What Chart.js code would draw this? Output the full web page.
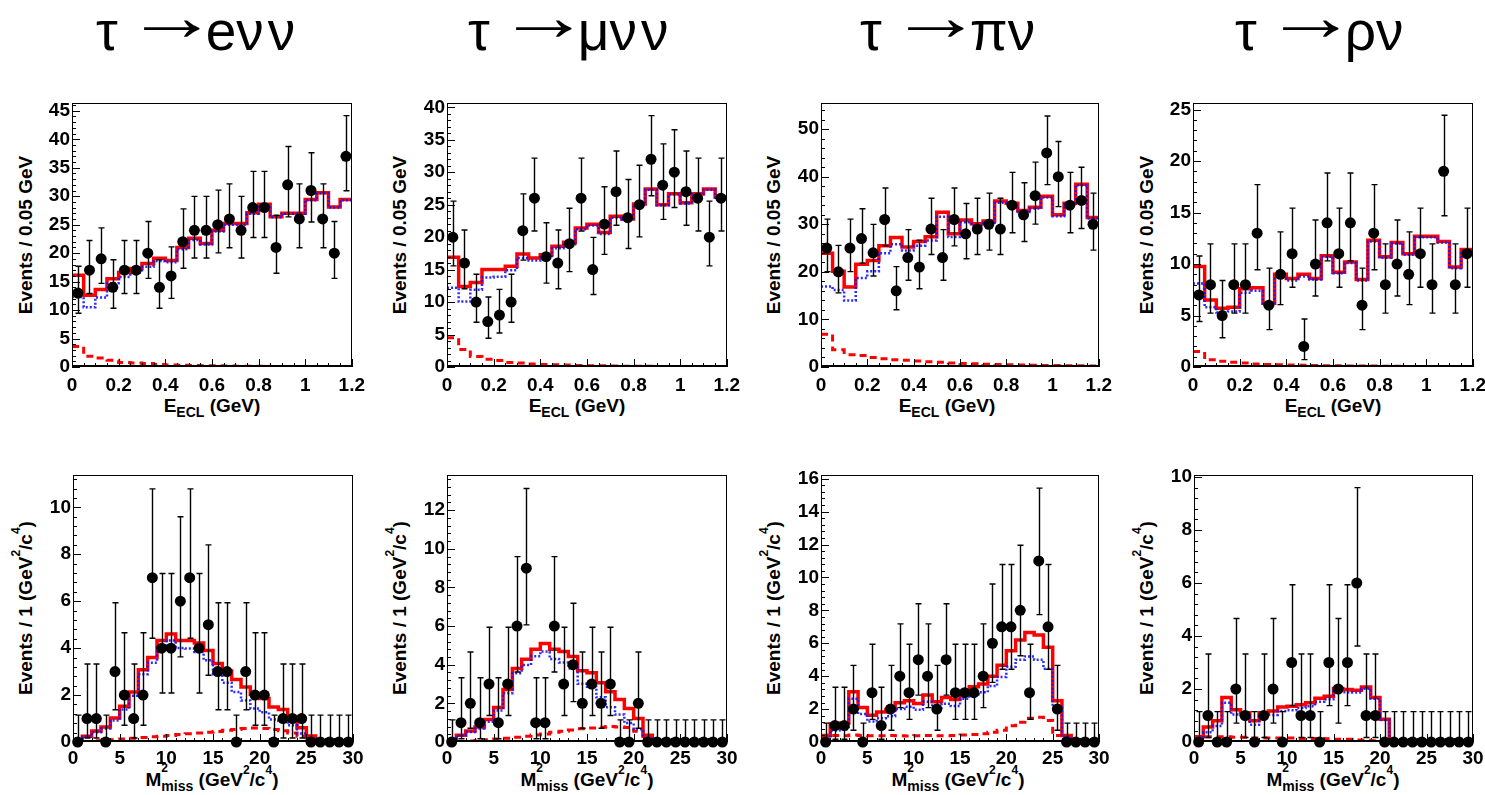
<!DOCTYPE html>
<html><head><meta charset="utf-8">
<script src="https://cdn.jsdelivr.net/npm/chart.js@4.4.1/dist/chart.umd.min.js"></script>
<style>
html,body{margin:0;padding:0;background:#fff;}
body{width:1485px;height:795px;position:relative;overflow:hidden;font-family:"Liberation Sans",Arial,sans-serif;color:#000;}
canvas{position:absolute;}
.ttl{position:absolute;font-size:55px;line-height:54px;white-space:nowrap;}
.ttl .arr{display:inline-block;width:66px;margin:0 15px 0 7px;position:relative;top:-15px;font-weight:bold;}
.ttl .arr span{display:inline-block;transform:scale(1.7,1.25);transform-origin:left center;}
.ttl .nu{letter-spacing:4px;}
.xt{position:absolute;width:240px;text-align:center;font-weight:bold;font-size:19px;line-height:20px;white-space:nowrap;}
.yt{position:absolute;width:260px;height:20px;text-align:center;font-weight:bold;font-size:19px;line-height:20px;white-space:nowrap;transform:translate(-50%,-50%) rotate(-90deg);}
.sub{font-size:14px;position:relative;top:5px;}
.sup{font-size:12px;position:relative;top:-12px;}
.ms{display:inline-block;position:relative;}
.ms2{position:absolute;left:0;top:-12px;font-size:12px;line-height:20px;}
</style></head>
<body>
<div class="ttl" style="left:96px;top:4px">τ<span class="arr"><span>→</span></span>e<span class="nu">νν</span></div>
<div class="ttl" style="left:468px;top:4px">τ<span class="arr"><span>→</span></span>μ<span class="nu">νν</span></div>
<div class="ttl" style="left:860px;top:4px">τ<span class="arr"><span>→</span></span>π<span class="nu">ν</span></div>
<div class="ttl" style="left:1235px;top:4px">τ<span class="arr"><span>→</span></span>ρ<span class="nu">ν</span></div>

<div class="xt" style="left:92px;top:396px">E<span class="sub">ECL</span> (GeV)</div>
<div class="xt" style="left:457px;top:396px">E<span class="sub">ECL</span> (GeV)</div>
<div class="xt" style="left:827px;top:396px">E<span class="sub">ECL</span> (GeV)</div>
<div class="xt" style="left:1213px;top:396px">E<span class="sub">ECL</span> (GeV)</div>

<div class="xt" style="left:92px;top:770px">M<span class="ms"><span class="ms2">2</span><span class="sub">miss</span></span> (GeV<span class="sup">2</span>/c<span class="sup">4</span>)</div>
<div class="xt" style="left:467px;top:770px">M<span class="ms"><span class="ms2">2</span><span class="sub">miss</span></span> (GeV<span class="sup">2</span>/c<span class="sup">4</span>)</div>
<div class="xt" style="left:838px;top:770px">M<span class="ms"><span class="ms2">2</span><span class="sub">miss</span></span> (GeV<span class="sup">2</span>/c<span class="sup">4</span>)</div>
<div class="xt" style="left:1213px;top:770px">M<span class="ms"><span class="ms2">2</span><span class="sub">miss</span></span> (GeV<span class="sup">2</span>/c<span class="sup">4</span>)</div>

<div class="yt" style="left:26px;top:235px">Events / 0.05 GeV</div>
<div class="yt" style="left:400px;top:235px">Events / 0.05 GeV</div>
<div class="yt" style="left:774px;top:235px">Events / 0.05 GeV</div>
<div class="yt" style="left:1147px;top:235px">Events / 0.05 GeV</div>
<div class="yt" style="left:26px;top:608px">Events / 1 (GeV<span class="sup">2</span>/c<span class="sup">4</span>)</div>
<div class="yt" style="left:400px;top:608px">Events / 1 (GeV<span class="sup">2</span>/c<span class="sup">4</span>)</div>
<div class="yt" style="left:774px;top:608px">Events / 1 (GeV<span class="sup">2</span>/c<span class="sup">4</span>)</div>
<div class="yt" style="left:1147px;top:608px">Events / 1 (GeV<span class="sup">2</span>/c<span class="sup">4</span>)</div>

<script>
// ---------- bins ----------
const topEdges = [0,0.05,0.1,0.15,0.2,0.25,0.3,0.35,0.4,0.45,0.5,0.55,0.6,0.65,0.7,0.75,0.8,0.85,0.9,0.95,1,1.05,1.1,1.15,1.2];
const topCenters = [0.025,0.075,0.125,0.175,0.225,0.275,0.325,0.375,0.425,0.475,0.525,0.575,0.625,0.675,0.725,0.775,0.825,0.875,0.925,0.975,1.025,1.075,1.125,1.175];
const botEdges = [0,1,2,3,4,5,6,7,8,9,10,11,12,13,14,15,16,17,18,19,20,21,22,23,24,25,26,27,28,29,30];
const botCenters = [0.5,1.5,2.5,3.5,4.5,5.5,6.5,7.5,8.5,9.5,10.5,11.5,12.5,13.5,14.5,15.5,16.5,17.5,18.5,19.5,20.5,21.5,22.5,23.5,24.5,25.5,26.5,27.5,28.5,29.5];

// ---------- tick labels ----------
const xTicksTop = [0,0.2,0.4,0.6,0.8,1,1.2];
const xTickLabelsTop = ['0','0.2','0.4','0.6','0.8','1','1.2'];
const xTicksBot = [0,5,10,15,20,25,30];
const xTickLabelsBot = ['0','5','10','15','20','25','30'];
const yTicksETop = [0,5,10,15,20,25,30,35,40,45];
const yTicksMuTop = [0,5,10,15,20,25,30,35,40];
const yTicksPiTop = [0,10,20,30,40,50];
const yTicksRhoTop = [0,5,10,15,20,25];
const yTicksEBot = [0,2,4,6,8,10];
const yTicksMuBot = [0,2,4,6,8,10,12];
const yTicksPiBot = [0,2,4,6,8,10,12,14,16];
const yTicksRhoBot = [0,2,4,6,8,10];

// ---------- tau -> e nu nu, E_ECL ----------
const eTopData = [13,17,19,14,17,17,20,14,16,22,24,24,25,26,24,28,28,21,32,26,31,26,20,37];
const eTopFit  = [16.1,12.6,13.6,15.5,16.6,17.3,18.2,19.1,18.7,21.0,22.6,21.7,24.0,25.2,25.2,27.1,28.6,26.4,27.0,27.0,29.4,30.6,28.1,29.4];
const eTopMain = [12.3,10.5,12.2,14.7,15.8,16.6,17.6,18.6,18.4,20.7,22.3,21.5,23.8,25.0,25.0,26.9,28.5,26.3,26.9,26.9,29.3,30.5,28.0,29.3];
const eTopSub  = [3.6,1.9,1.6,1.2,0.8,0.7,0.6,0.45,0.35,0.3,0.25,0.22,0.2,0.18,0.15,0.13,0.12,0.1,0.09,0.08,0.07,0.06,0.05,0.05];
// ---------- tau -> mu nu nu, E_ECL ----------
const muTopData = [20,16,10,7,8,10,21,26,17,16,19,26,15,22,27,23,25,32,28,30,27,26,20,26];
const muTopFit  = [16.9,12.4,13.0,15.0,15.0,15.5,17.4,16.8,17.3,18.6,19.2,21.4,22.0,20.7,23.2,22.8,25.1,27.4,25.0,26.7,25.3,26.7,27.4,26.2];
const muTopMain = [12.2,10.1,11.9,13.8,13.9,14.9,16.8,16.4,16.9,18.3,18.9,21.2,21.8,20.5,23.0,22.7,25.0,27.3,24.9,26.6,25.2,26.6,27.3,26.1];
const muTopSub  = [4.5,2.7,1.6,1.2,1.0,0.7,0.6,0.45,0.4,0.35,0.3,0.25,0.2,0.18,0.15,0.13,0.12,0.1,0.09,0.08,0.07,0.06,0.05,0.05];
// ---------- tau -> pi nu, E_ECL ----------
const piTopData = [25,20,25,27,24,31,16,23,21,29,23,31,28,29,30,29,34,32,36,45,40,34,35,30];
const piTopFit  = [23.9,20.1,16.8,21.6,22.4,25.5,27.2,25.2,26.4,27.4,32.5,28.0,30.9,30.1,30.7,34.9,34.4,32.9,33.6,35.9,32.0,34.4,38.4,31.4];
const piTopMain = [16.9,16.2,14.0,18.7,20.1,23.9,25.8,24.5,25.5,26.6,31.6,27.3,30.4,29.7,30.3,34.5,34.0,32.6,33.3,35.6,31.7,34.2,38.2,31.2];
const piTopSub  = [6.9,3.6,2.6,2.4,2.0,1.75,1.5,1.4,1.25,1.1,1.0,0.85,0.75,0.7,0.6,0.5,0.45,0.4,0.35,0.3,0.3,0.25,0.25,0.2];
// ---------- tau -> rho nu, E_ECL ----------
const rhoTopData = [7,8,5,8,8,13,6,9,11,2,10,14,11,14,6,13,8,10,9,11,8,19,8,11];
const rhoTopFit  = [9.75,6.5,5.7,5.8,7.6,7.7,6.2,9.0,8.6,9.0,8.6,10.8,9.2,10.2,8.5,12.3,10.7,12.1,11.0,12.7,12.7,12.2,9.7,11.4];
const rhoTopMain = [8.1,5.8,5.3,5.4,7.2,7.4,6.0,8.8,8.4,8.8,8.5,10.7,9.1,10.1,8.4,12.2,10.6,12.0,10.9,12.6,12.6,12.1,9.6,11.3];
const rhoTopSub  = [1.5,0.7,0.55,0.45,0.4,0.3,0.25,0.22,0.2,0.18,0.15,0.13,0.12,0.1,0.1,0.09,0.08,0.07,0.06,0.06,0.05,0.05,0.04,0.04];

// ---------- tau -> e nu nu, M2 miss ----------
const eBotData = [0,1,1,0,3,2,1,2,7,4,4,6,7,4,5,3,3,0,3,2,2,0,1,1,1,0,0,0,0,0];
const eBotFit  = [0.05,0.25,0.47,0.64,1.02,1.52,2.13,3.08,3.6,4.33,4.6,4.33,4.33,4.22,3.9,3.34,3.03,2.66,2.34,2.03,1.85,1.49,1.38,1.09,0.61,0.26,0,0,0,0];
const eBotMain = [0.05,0.23,0.42,0.57,0.92,1.39,1.97,2.89,3.38,4.08,4.32,4.01,3.98,3.84,3.48,2.89,2.53,2.13,1.77,1.43,1.27,0.96,0.9,0.71,0.36,0.16,0,0,0,0];
const eBotSub  = [0,0.02,0.05,0.07,0.1,0.13,0.16,0.19,0.22,0.25,0.28,0.32,0.35,0.38,0.42,0.45,0.5,0.53,0.57,0.6,0.58,0.53,0.48,0.38,0.25,0.1,0.02,0,0,0];
// ---------- tau -> mu nu nu, M2 miss ----------
const muBotData = [0,1,2,1,3,1,3,6,9,1,1,6,3,4,2,3,2,3,0,0,2,0,0,0,0,0,0,0,0,0];
const muBotFit  = [0.05,0.35,0.57,0.78,1.16,1.78,2.72,3.81,4.28,4.8,5.1,4.8,4.68,4.42,3.69,3.58,3.07,2.6,2.2,1.73,1.21,0.35,0.08,0,0,0,0,0,0,0];
const muBotMain = [0.05,0.33,0.52,0.7,1.05,1.63,2.52,3.56,3.98,4.44,4.68,4.3,4.12,3.8,3.01,2.86,2.31,1.8,1.42,0.98,0.66,0.2,0.06,0,0,0,0,0,0,0];
const muBotSub  = [0,0.02,0.05,0.08,0.11,0.15,0.2,0.25,0.3,0.36,0.42,0.5,0.56,0.62,0.68,0.72,0.76,0.8,0.78,0.75,0.55,0.15,0.02,0,0,0,0,0,0,0];
// ---------- tau -> pi nu, M2 miss ----------
const piBotData = [0,1,1,2,0,3,1,2,4,3,5,4,2,5,3,3,3,4,6,7,7,8,3,11,7,2,0,0,0,0];
const piBotFit  = [0.4,1.1,1.15,3.05,2.1,1.62,1.83,1.97,2.38,2.5,2.34,2.85,2.44,2.7,2.58,3.05,3.35,3.52,4.0,4.67,5.55,6.2,6.65,6.5,5.75,2.5,0.4,0,0,0];
const piBotMain = [0.1,0.7,0.77,2.63,1.7,1.24,1.45,1.57,2.0,2.14,1.96,2.45,2.06,2.32,2.18,2.63,2.9,3.02,3.4,3.95,4.57,5.0,5.2,5.0,4.45,2.1,0.3,0,0,0];
const piBotSub  = [0.35,0.4,0.38,0.42,0.4,0.38,0.38,0.4,0.38,0.36,0.38,0.4,0.38,0.38,0.4,0.42,0.45,0.5,0.6,0.72,0.98,1.2,1.45,1.5,1.3,0.4,0.1,0,0,0];
// ---------- tau -> rho nu, M2 miss ----------
const rhoBotData = [0,1,0,0,2,1,0,1,2,0,3,1,1,0,3,2,3,6,1,1,0,0,0,0,0,0,0,0,0,0];
const rhoBotFit  = [0.2,0.57,0.8,1.68,1.22,1.1,0.8,1.1,1.17,1.32,1.35,1.41,1.48,1.65,1.73,2.02,1.98,1.95,2.08,1.68,0.86,0,0,0,0,0,0,0,0,0];
const rhoBotMain = [0.05,0.37,0.6,1.48,1.04,0.92,0.65,0.95,1.02,1.17,1.2,1.28,1.35,1.52,1.61,1.92,1.88,1.87,2.01,1.63,0.83,0,0,0,0,0,0,0,0,0];
const rhoBotSub  = [0.15,0.2,0.2,0.2,0.18,0.18,0.15,0.15,0.15,0.15,0.15,0.13,0.13,0.13,0.12,0.1,0.1,0.08,0.07,0.05,0.03,0,0,0,0,0,0,0,0,0];

// ---------- Poisson (asymmetric) errors for counts ----------
function poissonLow(n){ if(n<=0) return 0; const t = 1 - 1/(9*n) - 1/(3*Math.sqrt(n)); return n - n*t*t*t; }
function poissonHigh(n){ if(n<=0) return 1.147; return Math.sqrt(n+0.75) + 1; }

function stepPoints(edges, vals){
  let k = vals.length - 1;
  while (k > 0 && vals[k] === 0) k--;
  const pts = [];
  for (let i = 0; i <= k; i++) pts.push({x: edges[i], y: vals[i]});
  pts.push({x: edges[k+1], y: vals[k]});
  if (k < vals.length - 1) pts.push({x: edges[k+1], y: 0});
  return pts;
}

// ---------- layout of the 8 pads ----------
const TOP = {edges: topEdges, centers: topCenters, xTicks: xTicksTop, xLabels: xTickLabelsTop, xMinor: 0.05, xPad: 7};
const BOT = {edges: botEdges, centers: botCenters, xTicks: xTicksBot, xLabels: xTickLabelsBot, xMinor: 1, xPad: 5};
const PANELS = [
  Object.assign({x:72,  y:103, w:280, h:264, yMax:46.3,  yTicks:yTicksETop,   yMinor:1,   data:eTopData,   fit:eTopFit,   main:eTopMain,   sub:eTopSub}, TOP),
  Object.assign({x:447, y:103, w:280, h:264, yMax:40.6,  yTicks:yTicksMuTop,  yMinor:1,   data:muTopData,  fit:muTopFit,  main:muTopMain,  sub:muTopSub}, TOP),
  Object.assign({x:821, y:103, w:278, h:264, yMax:55.4,  yTicks:yTicksPiTop,  yMinor:2,   data:piTopData,  fit:piTopFit,  main:piTopMain,  sub:piTopSub}, TOP),
  Object.assign({x:1193,y:103, w:280, h:264, yMax:25.6,  yTicks:yTicksRhoTop, yMinor:1,   data:rhoTopData, fit:rhoTopFit, main:rhoTopMain, sub:rhoTopSub}, TOP),
  Object.assign({x:73,  y:475, w:280, h:267, yMax:11.36, yTicks:yTicksEBot,   yMinor:0.4, data:eBotData,   fit:eBotFit,   main:eBotMain,   sub:eBotSub}, BOT),
  Object.assign({x:447, y:475, w:280, h:267, yMax:13.8,  yTicks:yTicksMuBot,  yMinor:0.4, data:muBotData,  fit:muBotFit,  main:muBotMain,  sub:muBotSub}, BOT),
  Object.assign({x:821, y:475, w:278, h:267, yMax:16.2,  yTicks:yTicksPiBot,  yMinor:0.4, data:piBotData,  fit:piBotFit,  main:piBotMain,  sub:piBotSub}, BOT),
  Object.assign({x:1194,y:475, w:279, h:267, yMax:10.06, yTicks:yTicksRhoBot, yMinor:0.4, data:rhoBotData, fit:rhoBotFit, main:rhoBotMain, sub:rhoBotSub}, BOT)
];

// ---------- plugins ----------
const rootFrame = {
  id: 'rootFrame',
  afterDraw(chart, args, opts){
    const {ctx, chartArea: a, scales: {x, y}} = chart;
    ctx.save();
    ctx.strokeStyle = '#000';
    ctx.lineWidth = 1;
    ctx.strokeRect(Math.round(a.left)+0.5, Math.round(a.top)+0.5, Math.round(a.right-a.left)-1, Math.round(a.bottom-a.top)-1);
    ctx.lineWidth = 2;
    ctx.beginPath(); ctx.moveTo(a.left, Math.round(a.bottom)-1); ctx.lineTo(a.right, Math.round(a.bottom)-1); ctx.stroke();
    ctx.lineWidth = 1;
    ctx.beginPath();
    const L = a.left;
    for (let k = 0; ; k++) {
      const v = k * opts.yMinor; if (v > y.max + 1e-9) break;
      const py = Math.round(y.getPixelForValue(v)) + 0.5;
      ctx.moveTo(L, py); ctx.lineTo(L + 4, py);
    }
    y.ticks.forEach(t => { const py = Math.round(y.getPixelForValue(t.value)) + 0.5; ctx.moveTo(L, py); ctx.lineTo(L + 8, py); });
    for (let k = 0; ; k++) {
      const v = k * opts.xMinor; if (v > x.max + 1e-9) break;
      const px = Math.round(x.getPixelForValue(v)) + 0.5;
      ctx.moveTo(px, a.bottom); ctx.lineTo(px, a.bottom - 4);
    }
    x.ticks.forEach(t => { const px = Math.round(x.getPixelForValue(t.value)) + 0.5; ctx.moveTo(px, a.bottom); ctx.lineTo(px, a.bottom - 8); });
    ctx.stroke();
    ctx.restore();
  }
};
const errBars = {
  id: 'errBars',
  afterDatasetsDraw(chart){
    const ds = chart.data.datasets[0];
    if (!ds.errLo) return;
    const {ctx, scales: {x, y}} = chart;
    ctx.save();
    ctx.strokeStyle = '#000';
    ctx.lineWidth = 1.4;
    ctx.beginPath();
    ds.data.forEach((p, i) => {
      const px = Math.round(x.getPixelForValue(p.x)) + 0.5;
      const yl = y.getPixelForValue(p.y - ds.errLo[i]);
      const yh = y.getPixelForValue(p.y + ds.errHi[i]);
      ctx.moveTo(px, yl); ctx.lineTo(px, yh);
      ctx.moveTo(px - 3, yh); ctx.lineTo(px + 3, yh);
      if (ds.errLo[i] > 0) { ctx.moveTo(px - 3, yl); ctx.lineTo(px + 3, yl); }
    });
    ctx.stroke();
    ctx.restore();
  }
};

const tickFont = {family: 'Liberation Sans', weight: 'bold', size: 19};

function buildConfig(p){
  return {
    type: 'line',
    data: {datasets: [
      {label: 'Data', data: p.centers.map((c, i) => ({x: c, y: p.data[i]})), showLine: false,
       pointRadius: 5.5, pointHoverRadius: 5.5, pointBackgroundColor: '#000', pointBorderColor: '#000', pointBorderWidth: 0,
       clip: false, errLo: p.data.map(poissonLow), errHi: p.data.map(poissonHigh)},
      {label: 'Main', data: stepPoints(p.edges, p.main), stepped: 'before', borderColor: 'rgba(20,20,255,0.9)', borderWidth: 2.5, borderDash: [2,2], pointRadius: 0, fill: false},
      {label: 'Fit', data: stepPoints(p.edges, p.fit), stepped: 'before', borderColor: '#ff0000', borderWidth: 3.5, pointRadius: 0, fill: false},
      {label: 'Sub', data: stepPoints(p.edges, p.sub), stepped: 'before', borderColor: '#ff0000', borderWidth: 3, borderDash: [7,5], pointRadius: 0, fill: false}
    ]},
    options: {
      responsive: false, animation: false, events: [],
      layout: {padding: {top: 12, right: 16, left: 0, bottom: 0}},
      plugins: {legend: {display: false}, tooltip: {enabled: false}, rootFrame: {xMinor: p.xMinor, yMinor: p.yMinor}},
      scales: {
        x: {type: 'linear', min: p.edges[0], max: p.edges[p.edges.length-1],
            grid: {display: false, drawTicks: false}, border: {display: false},
            afterBuildTicks: s => { s.ticks = p.xTicks.map(v => ({value: v})); },
            afterFit: s => { s.height = 32; },
            ticks: {autoSkip: false, maxRotation: 0, minRotation: 0, padding: p.xPad, color: '#000', font: tickFont,
                    callback: (v, i) => p.xLabels[i]}},
        y: {type: 'linear', min: 0, max: p.yMax,
            grid: {display: false, drawTicks: false}, border: {display: false},
            afterBuildTicks: s => { s.ticks = p.yTicks.map(v => ({value: v})); },
            afterFit: s => { s.width = 50; },
            ticks: {autoSkip: false, padding: 2, color: '#000', font: tickFont, callback: v => String(v)}}
      }
    },
    plugins: [rootFrame, errBars]
  };
}

PANELS.forEach(p => {
  const cv = document.createElement('canvas');
  document.body.appendChild(cv);
  let L = 50, T = 12, R = 16, B = 32;
  function build(){
    cv.width = p.w + L + R; cv.height = p.h + T + B;
    cv.style.width = cv.width + 'px'; cv.style.height = cv.height + 'px';
    cv.style.left = (p.x - L) + 'px'; cv.style.top = (p.y - T) + 'px';
    return new Chart(cv, buildConfig(p));
  }
  let ch = build();
  const a = ch.chartArea;
  if (Math.abs(a.left - L) > 0.5 || Math.abs(a.top - T) > 0.5 || Math.abs((cv.width - a.right) - R) > 0.5 || Math.abs((cv.height - a.bottom) - B) > 0.5) {
    L = Math.round(a.left); T = Math.round(a.top); R = Math.round(cv.width - a.right); B = Math.round(cv.height - a.bottom);
    ch.destroy();
    ch = build();
  }
});
</script>
</body></html>
